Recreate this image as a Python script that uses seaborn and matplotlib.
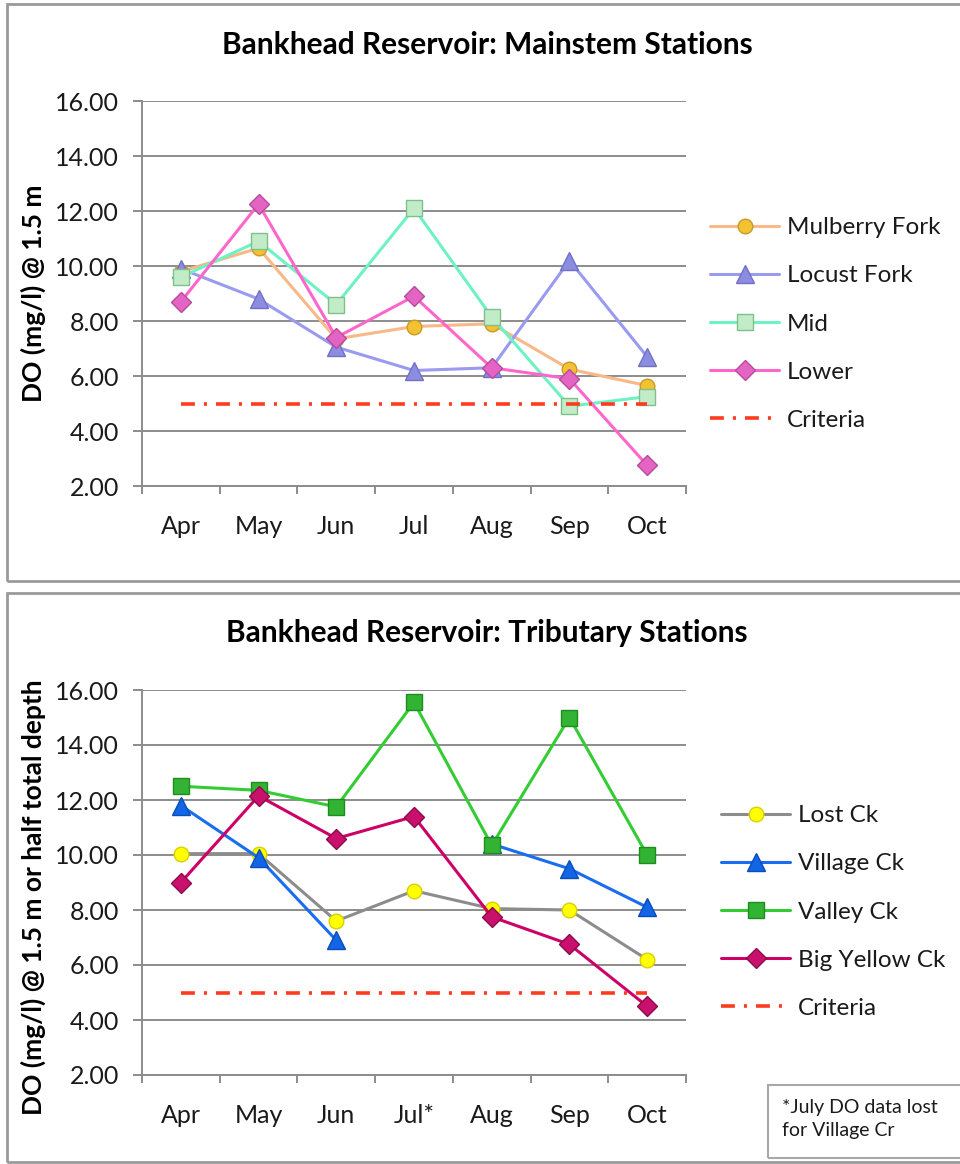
import matplotlib
matplotlib.use("Agg")
import matplotlib.pyplot as plt
import seaborn as sns
import numpy as np
import pandas as pd
from matplotlib.patches import Rectangle

# Data
months = ["Apr", "May", "Jun", "Jul", "Aug", "Sep", "Oct"]
months_trib = ["Apr", "May", "Jun", "Jul*", "Aug", "Sep", "Oct"]

mulberry_fork = [9.8, 10.65, 7.35, 7.8, 7.9, 6.25, 5.65]
locust_fork = [9.9, 8.8, 7.05, 6.2, 6.3, 10.2, 6.7]
mid = [9.6, 10.9, 8.6, 12.1, 8.15, 4.9, 5.25]
lower = [8.7, 12.25, 7.4, 8.9, 6.3, 5.9, 2.75]

lost_ck = [10.05, 10.05, 7.6, 8.7, 8.05, 8.0, 6.2]
village_ck = [11.8, 9.9, 6.9, np.nan, 10.4, 9.5, 8.1]
valley_ck = [12.5, 12.35, 11.75, 15.55, 10.35, 15.0, 10.0]
big_yellow_ck = [9.0, 12.15, 10.6, 11.4, 7.75, 6.75, 4.5]

criteria = [5.0, 5.0, 5.0, 5.0, 5.0, 5.0, 5.0]

sns.set_style("white")
plt.rcParams["font.family"] = ["Lato", "DejaVu Sans"]
plt.rcParams["lines.scale_dashes"] = False

fig = plt.figure(figsize=(9.6, 11.64), dpi=100)

W, H = 960.0, 1164.0
grid_col = "#8c8c8c"
text_col = "#1a1a1a"
crit_dash = (0, (10, 6.5, 2.2, 6.5))


def px_axes(left, top, right, bottom):
    return fig.add_axes([left / W, 1 - bottom / H, (right - left) / W, (bottom - top) / H])


def style_axes(ax, labels):
    x = np.arange(len(labels))
    ax.set_xlim(-0.5, len(labels) - 0.5)
    ax.set_ylim(2, 16)
    ax.set_yticks(np.arange(2, 17, 2))
    ax.set_yticklabels([f"{v:.2f}" for v in np.arange(2, 17, 2)])
    ax.set_xticks(x)
    ax.set_xticklabels(labels)
    ax.set_xticks(np.arange(-0.5, len(labels), 1.0), minor=True)
    ax.yaxis.grid(True, color=grid_col, linewidth=1.4)
    ax.xaxis.grid(False)
    ax.set_axisbelow(True)
    for s in ["top", "right"]:
        ax.spines[s].set_visible(False)
    for s in ["left", "bottom"]:
        ax.spines[s].set_color(grid_col)
        ax.spines[s].set_linewidth(1.4)
    ax.tick_params(axis="y", direction="out", length=6.5, width=1.4, color=grid_col,
                   pad=10, labelsize=18, labelcolor=text_col, left=True)
    ax.tick_params(axis="x", which="major", length=0, pad=21, labelsize=18,
                   labelcolor=text_col)
    ax.tick_params(axis="x", which="minor", direction="out", length=6, width=1.4,
                   color=grid_col, bottom=True)
    ax.set_xlabel("")


def draw_series(ax, vals, label, line_col, marker, face, edge, ms):
    df = pd.DataFrame({"x": np.arange(len(vals)), "y": vals})
    # split at missing values so the line breaks there
    seg_id = df["y"].isna().cumsum()
    first = True
    for _, seg in df.dropna().groupby(seg_id[df["y"].notna()]):
        sns.lineplot(data=seg, x="x", y="y", ax=ax, color=line_col, linewidth=2.2,
                     marker=marker, markersize=ms, markerfacecolor=face,
                     markeredgecolor=edge, markeredgewidth=1.0,
                     label=label if first else None, estimator=None, sort=False)
        first = False


def draw_criteria(ax):
    sns.lineplot(x=np.arange(len(criteria)), y=criteria, ax=ax, color="#ff3b1f",
                 linewidth=2.6, linestyle=crit_dash, label="Criteria")
    ax.get_lines()[-1].set_dashes(crit_dash[1])


def add_legend(ax, x_px, y_px):
    ax.legend(loc="center left", bbox_to_anchor=(x_px / W, 1 - y_px / H),
              bbox_transform=fig.transFigure, frameon=False, fontsize=17.5,
              handlelength=2.85, handletextpad=0.3, labelspacing=1.12, borderpad=0,
              borderaxespad=0, labelcolor=text_col)


# panel frames
for top, bottom in [(4, 581), (593, 1162)]:
    fig.add_artist(Rectangle((7 / W, 1 - bottom / H), 1.0, (bottom - top) / H,
                             transform=fig.transFigure, fill=False,
                             edgecolor="#9a9a9a", linewidth=2.0))

# ---- Mainstem stations ----
ax1 = px_axes(142, 101, 686, 486)
draw_series(ax1, mulberry_fork, "Mulberry Fork", "#f8b888", "o", "#f2c233", "#c89a28", 10.5)
draw_series(ax1, locust_fork, "Locust Fork", "#9a9af0", "^", "#8c8ce0", "#7070c8", 13.5)
draw_series(ax1, mid, "Mid", "#6ef2c4", "s", "#c2ecc8", "#7fbf8c", 11.5)
draw_series(ax1, lower, "Lower", "#ff66cc", "D", "#e464c4", "#b84a9c", 10.5)
draw_criteria(ax1)
style_axes(ax1, months)
ax1.set_ylabel("DO (mg/l) @ 1.5 m", fontsize=19, fontweight="bold", color="black")
ax1.yaxis.set_label_coords(-0.176, 0.5)
fig.text(487 / W, 1 - 45 / H, "Bankhead Reservoir: Mainstem Stations", ha="center",
         va="center", fontsize=21.5, fontweight="bold", color="black")
add_legend(ax1, 710, 324)

# ---- Tributary stations ----
ax2 = px_axes(142, 690, 686, 1075)
draw_series(ax2, lost_ck, "Lost Ck", "#8c8c8c", "o", "#ffff00", "#d8d000", 10.5)
draw_series(ax2, village_ck, "Village Ck", "#1a6cf0", "^", "#1266e6", "#0a4cb8", 13.5)
draw_series(ax2, valley_ck, "Valley Ck", "#33cc33", "s", "#33b333", "#1f8c1f", 11.5)
draw_series(ax2, big_yellow_ck, "Big Yellow Ck", "#cc0066", "D", "#c8106c", "#8c0a4a", 10.5)
draw_criteria(ax2)
style_axes(ax2, months_trib)
ax2.set_ylabel("DO (mg/l) @ 1.5 m or half total depth", fontsize=19,
               fontweight="bold", color="black")
ax2.yaxis.set_label_coords(-0.176, 0.462)
fig.text(487 / W, 1 - 633 / H, "Bankhead Reservoir: Tributary Stations", ha="center",
         va="center", fontsize=21.5, fontweight="bold", color="black")
add_legend(ax2, 721, 912)

# footnote box
fig.add_artist(Rectangle((768 / W, 1 - 1158 / H), 200 / W, 73 / H,
                         transform=fig.transFigure, fill=False,
                         edgecolor="#a8a8a8", linewidth=1.5))
fig.text(782 / W, 1 - 1119 / H, "*July DO data lost\nfor Village Cr", ha="left",
         va="center", fontsize=14, color=text_col, linespacing=1.4)

fig.savefig("out.png", dpi=100)
